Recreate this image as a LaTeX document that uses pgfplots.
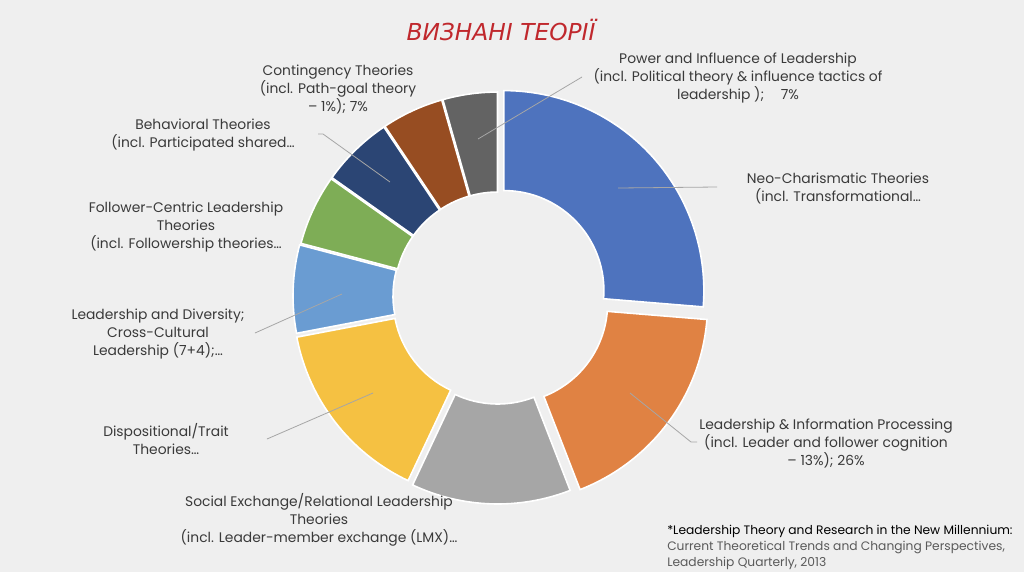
\documentclass[border=0pt]{standalone}
\usepackage{pgfplots}
\usepackage{pgfplotstable}
\pgfplotsset{compat=1.18}
\usepackage{fontspec}
\setmainfont{Poppins}
\newfontfamily\titlefont{DejaVu Sans}

\definecolor{bgcol}{HTML}{EFEFEF}
\definecolor{txtcol}{HTML}{3A3A3A}
\definecolor{notecol}{HTML}{5A5A5A}
\definecolor{linecol}{HTML}{A6A6A6}
\definecolor{titlecol}{HTML}{C0282D}
\definecolor{cNeo}{HTML}{4E73BE}
\definecolor{cInfo}{HTML}{E08243}
\definecolor{cSocial}{HTML}{A6A6A6}
\definecolor{cTrait}{HTML}{F5C142}
\definecolor{cDiv}{HTML}{6A9CD2}
\definecolor{cFollow}{HTML}{7EAD56}
\definecolor{cBehav}{HTML}{2B4574}
\definecolor{cConting}{HTML}{974D22}
\definecolor{cPower}{HTML}{636363}

% shares of the ring, clockwise from 12 o'clock; explode in px
\pgfplotstableread{
name        value explode color
Neo         26.3  8       cNeo
Info        17.8  12      cInfo
Social      12.9  8       cSocial
Trait       15.0  6       cTrait
Diversity    7.1  5       cDiv
Follower     5.7  4       cFollow
Behavioral   5.8  4       cBehav
Contingency  5.0  4       cConting
Power        4.4  4       cPower
}\shares

\begin{document}
\begin{tikzpicture}
\fill[bgcol] (0,0) rectangle (768pt,429pt);

% angles of every segment from the shares
\gdef\segstart{90}
\foreach \i in {0,...,8}{%
  \pgfplotstablegetelem{\i}{value}\of\shares \let\v\pgfplotsretval
  \pgfplotstablegetelem{\i}{explode}\of\shares \let\e\pgfplotsretval
  \pgfplotstablegetelem{\i}{color}\of\shares \let\c\pgfplotsretval
  \pgfmathsetmacro\aend{\segstart-3.6*\v}
  \pgfmathsetmacro\amid{(\segstart+\aend)/2}
  \pgfmathsetmacro\ept{0.75*\e}
  \expandafter\xdef\csname segS\i\endcsname{\segstart}
  \expandafter\xdef\csname segE\i\endcsname{\aend}
  \expandafter\xdef\csname segM\i\endcsname{\amid}
  \expandafter\xdef\csname segX\i\endcsname{\ept}
  \expandafter\xdef\csname segC\i\endcsname{\c}
  \xdef\segstart{\aend}
}

\begin{axis}[at={(0,0)}, anchor=south west,
  width=768pt, height=429pt, scale only axis,
  xmin=0, xmax=1024, ymin=0, ymax=572, y dir=reverse,
  hide axis, clip=false]

\pgfplotsinvokeforeach{0,...,8}{
  \fill[fill=\csname segC#1\endcsname, draw=white, line width=1.2pt,
    shift={(axis cs:498,296)},
    shift={(\csname segM#1\endcsname:\csname segX#1\endcsname pt)}]
    (\csname segS#1\endcsname:150pt)
    arc[start angle=\csname segS#1\endcsname, end angle=\csname segE#1\endcsname, radius=150pt]
    -- (\csname segE#1\endcsname:75pt)
    arc[start angle=\csname segE#1\endcsname, end angle=\csname segS#1\endcsname, radius=75pt]
    -- cycle;
}

% leader lines
\draw[linecol, line width=0.6pt] (axis cs:478,139) -- (axis cs:582,77);
\draw[linecol, line width=0.6pt] (axis cs:618,188) -- (axis cs:717,187);
\draw[linecol, line width=0.6pt] (axis cs:630,393) -- (axis cs:691,442) -- (axis cs:697,442);
\draw[linecol, line width=0.6pt] (axis cs:373,393) -- (axis cs:267,439);
\draw[linecol, line width=0.6pt] (axis cs:342,294) -- (axis cs:255,333);
\draw[linecol, line width=0.6pt] (axis cs:390,182) -- (axis cs:323,134) -- (axis cs:318,134);

% labels
\tikzset{lbl/.style={align=center, text=txtcol, font=\fontsize{10.4}{13.5}\selectfont, inner sep=0pt}}
\node[lbl] at (axis cs:738,78) {Power and Influence of Leadership\\(incl. Political theory \& influence tactics of\\leadership );\hspace{1.2em}7\%};
\node[lbl] at (axis cs:838,188.5) {Neo-Charismatic Theories\\(incl. Transformational…};
\node[lbl] at (axis cs:826,443) {Leadership \& Information Processing\\(incl. Leader and follower cognition\\– 13\%); 26\%};
\node[lbl] at (axis cs:319,520) {Social Exchange/Relational Leadership\\Theories\\(incl. Leader-member exchange (LMX)…};
\node[lbl] at (axis cs:166,439.5) {Dispositional/Trait\\Theories…};
\node[lbl] at (axis cs:158,334) {Leadership and Diversity;\\Cross-Cultural\\Leadership (7+4);…};
\node[lbl] at (axis cs:186,227) {Follower-Centric Leadership\\Theories\\(incl. Followership theories…};
\node[lbl] at (axis cs:203,135) {Behavioral Theories\\(incl. Participated shared…};
\node[lbl] at (axis cs:338,90) {Contingency Theories\\(incl. Path-goal theory\\– 1\%); 7\%};

% title
\node[text=titlecol, font=\titlefont\itshape\fontsize{17.5}{20}\selectfont, inner sep=0pt]
  at (axis cs:501,30) {ВИЗНАНІ ТЕОРІЇ};

% source note
\node[anchor=north west, align=left, inner sep=0pt, font=\fontsize{9.2}{11.8}\selectfont]
  at (axis cs:667,525) {\textcolor{black}{*Leadership Theory and Research in the New Millennium:}\\
  \textcolor{notecol}{Current Theoretical Trends and Changing Perspectives,}\\
  \textcolor{notecol}{Leadership Quarterly, 2013}};
\end{axis}
\end{tikzpicture}
\end{document}
